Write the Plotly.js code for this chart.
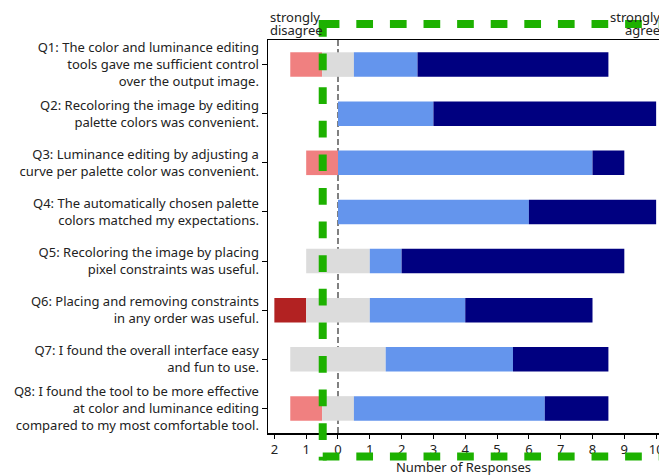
<!DOCTYPE html>
<html>
<head>
<meta charset="utf-8">
<script src="https://cdn.plot.ly/plotly-3.0.1.min.js"></script>
<style>html,body{margin:0;padding:0;background:#fff;}#chart{width:659px;height:476px;}</style>
</head>
<body>
<div id="chart"></div>
<script>
const questions = [
  "Q1: The color and luminance editing<br>tools gave me sufficient control<br>over the output image.",
  "Q2: Recoloring the image by editing<br>palette colors was convenient.",
  "Q3: Luminance editing by adjusting a<br>curve per palette color was convenient.",
  "Q4: The automatically chosen palette<br>colors matched my expectations.",
  "Q5: Recoloring the image by placing<br>pixel constraints was useful.",
  "Q6: Placing and removing constraints<br>in any order was useful.",
  "Q7: I found the overall interface easy<br>and fun to use.",
  "Q8: I found the tool to be more effective<br>at color and luminance editing<br>compared to my most comfortable tool."
];
const stronglyDisagree = [0, 0, 0, 0, 0, 1, 0, 0];
const disagree         = [1, 0, 1, 0, 0, 0, 0, 1];
const neutral          = [1, 0, 0, 0, 2, 2, 3, 1];
const agree            = [2, 3, 8, 6, 1, 3, 4, 6];
const stronglyAgree    = [6, 7, 1, 4, 7, 4, 3, 2];
const tickValues = [-2, -1, 0, 1, 2, 3, 4, 5, 6, 7, 8, 9, 10];
const tickLabels = ["2", "1", "0", "1", "2", "3", "4", "5", "6", "7", "8", "9", "10"];

const colors = {sd: "#b22222", d: "#f08080", n: "#dcdcdc", a: "#6495ed", sa: "#000080"};

const nBase  = neutral.map(v => -v / 2);
const dBase  = neutral.map((v, i) => -v / 2 - disagree[i]);
const sdBase = neutral.map((v, i) => -v / 2 - disagree[i] - stronglyDisagree[i]);
const aBase  = neutral.map(v => v / 2);
const saBase = neutral.map((v, i) => v / 2 + agree[i]);

function bar(name, vals, base, color) {
  return {type: "bar", orientation: "h", name: name, y: questions, x: vals, base: base,
          width: 0.5, marker: {color: color, line: {width: 0}}, hoverinfo: "skip"};
}

const traces = [
  bar("strongly disagree", stronglyDisagree, sdBase, colors.sd),
  bar("disagree", disagree, dBase, colors.d),
  bar("neutral", neutral, nBase, colors.n),
  bar("agree", agree, aBase, colors.a),
  bar("strongly agree", stronglyAgree, saBase, colors.sa)
];

const green = "rgb(29,177,0)";
const font = {family: "'Noto Sans', Lato, sans-serif", size: 13, color: "#222"};

const layout = {
  width: 659, height: 476,
  margin: {l: 268, r: 0, t: 40, b: 43},
  barmode: "overlay",
  showlegend: false,
  plot_bgcolor: "#fff", paper_bgcolor: "#fff",
  font: font,
  xaxis: {
    range: [-2.2, 10.09], tickvals: tickValues, ticktext: tickLabels,
    ticklabeloverflow: "allow",
    showgrid: false, zeroline: false, showline: true, linecolor: "#000", linewidth: 1.5,
    mirror: true, ticks: "outside", ticklen: 4, tickcolor: "#000",
    title: {text: "Number of Responses", font: font, standoff: 0}
  },
  yaxis: {
    type: "category", range: [7.5, -0.5],
    showgrid: false, zeroline: false, showline: true, linecolor: "#000", linewidth: 1.5,
    mirror: true, ticks: "outside", ticklen: 5, tickcolor: "#000"
  },
  shapes: [
    {type: "line", xref: "x", yref: "paper", x0: 0, x1: 0, y0: 0, y1: 1,
     line: {color: "#808080", width: 2, dash: "6px,3px"}, layer: "below"},
    {type: "line", xref: "x", yref: "paper", x0: -0.48, x1: 10.5, y0: 1.0407, y1: 1.0407,
     line: {color: green, width: 8, dash: "16.7px,16.9px"}, layer: "above"},
    {type: "line", xref: "x", yref: "paper", x0: -0.48, x1: 10.5, y0: -0.0597, y1: -0.0597,
     line: {color: green, width: 8, dash: "16.7px,16.9px"}, layer: "above"},
    {type: "line", xref: "x", yref: "paper", x0: -0.48, x1: -0.48, y0: 1.0509, y1: -0.07,
     line: {color: green, width: 8, dash: "16.7px,16.9px"}, layer: "above"}
  ],
  annotations: [
    {xref: "paper", yref: "paper", x: 0, y: 1.0585, xanchor: "left", yanchor: "middle",
     text: "strongly", showarrow: false, font: font},
    {xref: "paper", yref: "paper", x: 0, y: 1.0255, xanchor: "left", yanchor: "middle",
     text: "disagree", showarrow: false, font: font},
    {xref: "paper", yref: "paper", x: 1.008, y: 1.0585, xanchor: "right", yanchor: "middle",
     text: "strongly", showarrow: false, font: font},
    {xref: "paper", yref: "paper", x: 1.008, y: 1.0255, xanchor: "right", yanchor: "middle",
     text: "agree", showarrow: false, font: font}
  ]
};

Plotly.newPlot("chart", traces, layout, {displayModeBar: false, staticPlot: true});
</script>
</body>
</html>
